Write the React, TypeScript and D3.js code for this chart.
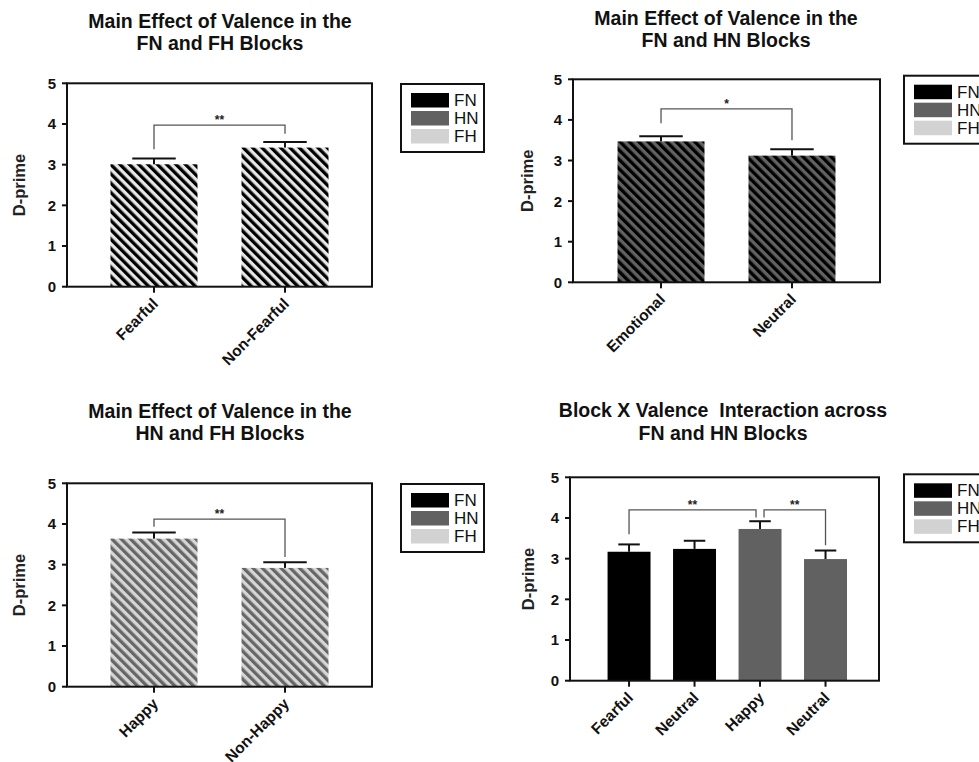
import React from "react";
import * as d3 from "d3";

const W = 979;
const H = 762;
const FONT = "'Liberation Sans', Arial, Helvetica, sans-serif";

// ---------- data ----------
const yTicks = [0, 1, 2, 3, 4, 5];
const yDomain = [0, 5];
const yAxisLabel = "D-prime";
const legendLabels = ["FN", "HN", "FH"];
const legendColors = ["#000000", "#616161", "#d2d2d2"];

const p1Title = ["Main Effect of Valence in the", "FN and FH Blocks"];
const p1Categories = ["Fearful", "Non-Fearful"];
const p1Means = [3.01, 3.42];
const p1Errors = [0.14, 0.14];
const p1Brackets = [{ from: 0, to: 1, y: 3.97, leftEnd: 3.38, rightEnd: 3.76, label: "**" }];

const p2Title = ["Main Effect of Valence in the", "FN and HN Blocks"];
const p2Categories = ["Emotional", "Neutral"];
const p2Means = [3.47, 3.12];
const p2Errors = [0.13, 0.16];
const p2Brackets = [{ from: 0, to: 1, y: 4.27, leftEnd: 3.92, rightEnd: 3.5, label: "*" }];

const p3Title = ["Main Effect of Valence in the", "HN and FH Blocks"];
const p3Categories = ["Happy", "Non-Happy"];
const p3Means = [3.64, 2.92];
const p3Errors = [0.15, 0.14];
const p3Brackets = [{ from: 0, to: 1, y: 4.12, leftEnd: 3.93, rightEnd: 3.19, label: "**" }];

const p4Title = ["Block X Valence  Interaction across", "FN and HN Blocks"];
const p4Categories = ["Fearful", "Neutral", "Happy", "Neutral"];
const p4Blocks = ["FN", "FN", "HN", "HN"];
const p4Means = [3.17, 3.24, 3.73, 2.99];
const p4Errors = [0.18, 0.2, 0.19, 0.21];
const p4Brackets = [
  { from: 0, to: 2, y: 4.2, leftEnd: 3.6, rightEnd: 4.01, label: "**" },
  { from: 2, to: 3, y: 4.2, leftEnd: 4.01, rightEnd: 3.33, label: "**" },
];

// ---------- layout ----------
type Bracket = { from: number; to: number; y: number; leftEnd: number; rightEnd: number; label: string };
type PanelCfg = {
  title: string[];
  categories: string[];
  means: number[];
  errors: number[];
  brackets: Bracket[];
  fills: string[];
  left: number;
  right: number;
  top: number;
  bottom: number;
  padInner: number;
  padOuter: number;
  align: number;
  titleX: number;
  titleY: number[];
  yLabelX: number;
  legendX: number;
  legendY: number;
  bracketShift: number[][];
};

const blockColor = (b: string) => legendColors[legendLabels.indexOf(b)];

const panels: PanelCfg[] = [
  {
    title: p1Title, categories: p1Categories, means: p1Means, errors: p1Errors, brackets: p1Brackets,
    fills: p1Categories.map(() => "url(#stripeFH)"),
    left: 67, right: 372, top: 83.3, bottom: 286.7, padInner: 0.336, padOuter: 0.332, align: 0.5,
    titleX: 220, titleY: [27.5, 49.5], yLabelX: 19, legendX: 401, legendY: 84,
    bracketShift: [[0, 0]],
  },
  {
    title: p2Title, categories: p2Categories, means: p2Means, errors: p2Errors, brackets: p2Brackets,
    fills: p2Categories.map(() => "url(#stripeFN_HN)"),
    left: 573, right: 880, top: 79.3, bottom: 282.3, padInner: 0.336, padOuter: 0.34, align: 0.5,
    titleX: 726, titleY: [24.5, 46.5], yLabelX: 527, legendX: 904, legendY: 75.7,
    bracketShift: [[0, 0]],
  },
  {
    title: p3Title, categories: p3Categories, means: p3Means, errors: p3Errors, brackets: p3Brackets,
    fills: p3Categories.map(() => "url(#stripeHN_FH)"),
    left: 67, right: 372, top: 483.3, bottom: 686.7, padInner: 0.336, padOuter: 0.332, align: 0.5,
    titleX: 220, titleY: [418, 440], yLabelX: 19, legendX: 401, legendY: 484,
    bracketShift: [[0, 0]],
  },
  {
    title: p4Title, categories: p4Categories, means: p4Means, errors: p4Errors, brackets: p4Brackets,
    fills: p4Blocks.map(blockColor),
    left: 570, right: 879, top: 477.3, bottom: 680.7, padInner: 0.344, padOuter: 0.531, align: 0.54,
    titleX: 723, titleY: [417, 439.5], yLabelX: 528, legendX: 904, legendY: 474.3,
    bracketShift: [[0, -4], [4, 0]],
  },
];

function Panel({ cfg }: { cfg: PanelCfg }) {
  const y = d3.scaleLinear().domain(yDomain).range([cfg.bottom, cfg.top]);
  const x = d3
    .scaleBand<number>()
    .domain(cfg.categories.map((_, i) => i))
    .range([cfg.left, cfg.right])
    .paddingInner(cfg.padInner)
    .paddingOuter(cfg.padOuter)
    .align(cfg.align);
  const bw = x.bandwidth();
  const cx = (i: number) => (x(i) as number) + bw / 2;
  const midY = (cfg.top + cfg.bottom) / 2;

  return (
    <g>
      {/* title */}
      {cfg.title.map((t, i) => (
        <text key={i} x={cfg.titleX} y={cfg.titleY[i]} textAnchor="middle" fontFamily={FONT}
          fontWeight="bold" fontSize={19.5} fill="#111" style={{ whiteSpace: "pre" }}>
          {t}
        </text>
      ))}

      {/* bars */}
      {cfg.means.map((m, i) => (
        <rect key={i} x={x(i)} y={y(m)} width={bw} height={y(0) - y(m)} fill={cfg.fills[i]} />
      ))}

      {/* error bars */}
      {cfg.means.map((m, i) => {
        const top = y(m + cfg.errors[i]);
        return (
          <g key={i} stroke="#111" strokeWidth={2}>
            <line x1={cx(i)} x2={cx(i)} y1={y(m)} y2={top} />
            <line x1={cx(i) - bw / 4} x2={cx(i) + bw / 4} y1={top} y2={top} />
          </g>
        );
      })}

      {/* significance brackets */}
      {cfg.brackets.map((b, i) => {
        const x1 = cx(b.from) + cfg.bracketShift[i][0];
        const x2 = cx(b.to) + cfg.bracketShift[i][1];
        const by = y(b.y);
        const path = d3.path();
        path.moveTo(x1, y(b.leftEnd));
        path.lineTo(x1, by);
        path.lineTo(x2, by);
        path.lineTo(x2, y(b.rightEnd));
        return (
          <g key={i}>
            <path d={path.toString()} fill="none" stroke="#555" strokeWidth={1.3} />
            <text x={(x1 + x2) / 2} y={by - 1} textAnchor="middle" fontFamily={FONT}
              fontWeight="bold" fontSize={12} fill="#222">
              {b.label}
            </text>
          </g>
        );
      })}

      {/* frame */}
      <rect x={cfg.left} y={cfg.top} width={cfg.right - cfg.left} height={cfg.bottom - cfg.top}
        fill="none" stroke="#111" strokeWidth={2} />

      {/* y ticks */}
      {yTicks.map((t) => (
        <g key={t}>
          <line x1={cfg.left - 5} x2={cfg.left} y1={y(t)} y2={y(t)} stroke="#111" strokeWidth={2} />
          <text x={cfg.left - 11} y={y(t)} dy="0.36em" textAnchor="end" fontFamily={FONT}
            fontWeight="bold" fontSize={15} fill="#111">
            {t}
          </text>
        </g>
      ))}

      {/* x ticks & labels */}
      {cfg.categories.map((c, i) => (
        <g key={i}>
          <line x1={cx(i)} x2={cx(i)} y1={cfg.bottom} y2={cfg.bottom + 6} stroke="#111" strokeWidth={2} />
          <text transform={`translate(${cx(i) + 5},${cfg.bottom + 18}) rotate(-45)`} textAnchor="end"
            fontFamily={FONT} fontWeight="bold" fontSize={15.5} fill="#111">
            {c}
          </text>
        </g>
      ))}

      {/* y axis label */}
      <text transform={`translate(${cfg.yLabelX},${midY}) rotate(-90)`} textAnchor="middle"
        dominantBaseline="central" fontFamily={FONT} fontWeight="bold" fontSize={16.5} fill="#222">
        {yAxisLabel}
      </text>

      {/* legend */}
      <g transform={`translate(${cfg.legendX},${cfg.legendY})`}>
        <rect x={0} y={0} width={83} height={68} fill="#fff" stroke="#111" strokeWidth={2} />
        {legendLabels.map((l, i) => (
          <g key={l}>
            <rect x={10} y={9 + i * 18} width={38} height={14.5} fill={legendColors[i]} />
            <text x={53} y={22 + i * 18} fontFamily={FONT} fontSize={17} fill="#111">
              {l}
            </text>
          </g>
        ))}
      </g>
    </g>
  );
}

function Stripe({ id, dark, light }: { id: string; dark: string; light: string }) {
  const p = 6.6;
  return (
    <pattern id={id} patternUnits="userSpaceOnUse" width={p} height={p} patternTransform="rotate(-45)">
      <rect x={0} y={0} width={p} height={p} fill={light} />
      <rect x={0} y={0} width={p / 2} height={p} fill={dark} />
    </pattern>
  );
}

export default function App() {
  return (
    <svg width={W} height={H} style={{ position: "absolute", left: 0, top: 0, background: "#fff" }}>
      <defs>
        <Stripe id="stripeFH" dark="#000000" light="#e6e6e6" />
        <Stripe id="stripeFN_HN" dark="#000000" light="#626262" />
        <Stripe id="stripeHN_FH" dark="#666666" light="#d6d6d6" />
      </defs>
      <rect x={0} y={0} width={W} height={H} fill="#fff" />
      {panels.map((p, i) => (
        <Panel key={i} cfg={p} />
      ))}
    </svg>
  );
}
